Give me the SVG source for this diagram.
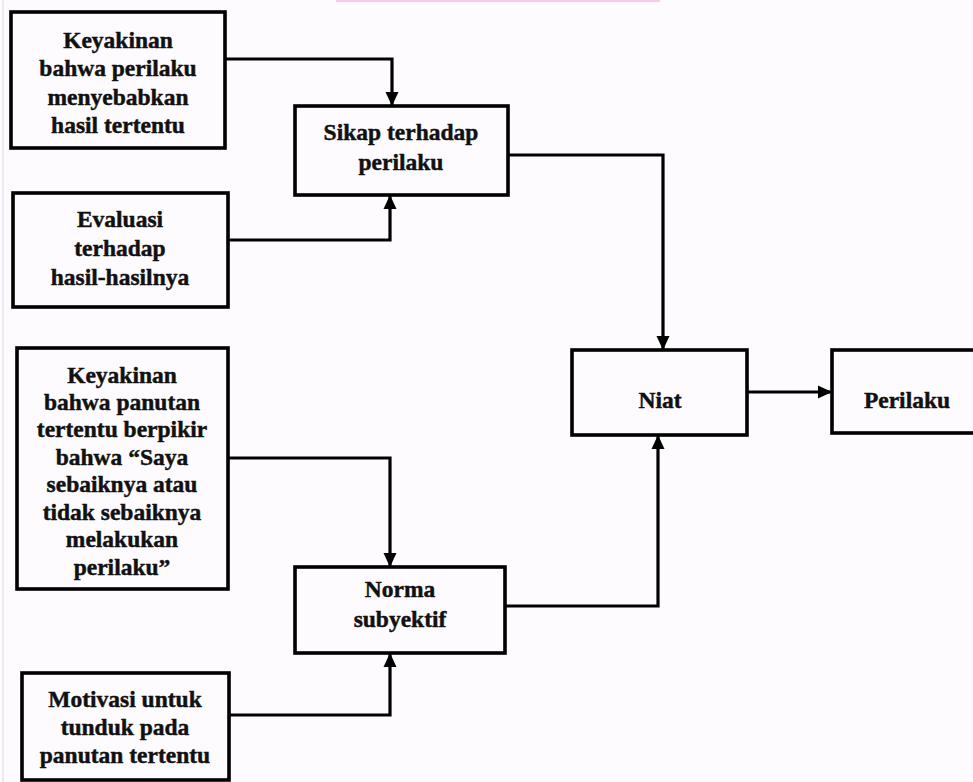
<svg xmlns="http://www.w3.org/2000/svg" width="973" height="782" viewBox="0 0 973 782">
  <defs>
    <marker id="arrow" viewBox="0 0 14 14" refX="13" refY="7" markerWidth="14" markerHeight="14" markerUnits="userSpaceOnUse" orient="auto">
      <path d="M0,0.5 L14,7 L0,13.5 Z" fill="#000"/>
    </marker>
    <style>
      .box { fill: none; stroke: #000; stroke-width: 3.6; }
      .lbl { font-family: "Liberation Serif", "Times New Roman", serif; font-weight: bold; font-size: 23.5px; fill: #111; stroke: #111; stroke-width: 0.45; text-anchor: middle; }
      .wire { fill: none; stroke: #000; stroke-width: 3.2; marker-end: url(#arrow); }
    </style>
  </defs>

  <!-- page -->
  <rect x="0" y="0" width="973" height="782" fill="#fdfbfe"/>
  <rect x="336" y="0" width="324" height="2" fill="#f6cbee"/>
  <line x1="3" y1="0" x2="3" y2="782" stroke="#e6e4ec" stroke-width="1.5"/>

  <!-- connectors -->
  <g id="connectors">
    <path class="wire" d="M225,59 H392 V105"/>
    <path class="wire" d="M228,240 H390 V196"/>
    <path class="wire" d="M508,155 H663 V349"/>
    <path class="wire" d="M747,392 H831"/>
    <path class="wire" d="M228,458 H390 V566"/>
    <path class="wire" d="M229,715 H390 V654"/>
    <path class="wire" d="M505,606 H658 V436"/>
  </g>

  <g id="keyakinan-perilaku">
    <rect class="box" x="11" y="12" width="214" height="136"/>
    <text class="lbl" x="118" y="48">Keyakinan</text>
    <text class="lbl" x="118" y="76">bahwa perilaku</text>
    <text class="lbl" x="118" y="105">menyebabkan</text>
    <text class="lbl" x="118" y="133">hasil tertentu</text>
  </g>

  <g id="evaluasi">
    <rect class="box" x="13" y="193" width="215" height="114"/>
    <text class="lbl" x="120" y="227">Evaluasi</text>
    <text class="lbl" x="120" y="256">terhadap</text>
    <text class="lbl" x="120" y="285">hasil-hasilnya</text>
  </g>

  <g id="sikap">
    <rect class="box" x="295" y="106" width="213" height="89"/>
    <text class="lbl" x="401" y="140">Sikap terhadap</text>
    <text class="lbl" x="401" y="170">perilaku</text>
  </g>

  <g id="keyakinan-panutan">
    <rect class="box" x="17" y="348" width="211" height="241"/>
    <text class="lbl" x="122" y="383">Keyakinan</text>
    <text class="lbl" x="122" y="410">bahwa panutan</text>
    <text class="lbl" x="122" y="437">tertentu berpikir</text>
    <text class="lbl" x="122" y="465">bahwa “Saya</text>
    <text class="lbl" x="122" y="492">sebaiknya atau</text>
    <text class="lbl" x="122" y="520">tidak sebaiknya</text>
    <text class="lbl" x="122" y="547">melakukan</text>
    <text class="lbl" x="122" y="575">perilaku”</text>
  </g>

  <g id="norma">
    <rect class="box" x="295" y="567" width="210" height="86"/>
    <text class="lbl" x="400" y="597">Norma</text>
    <text class="lbl" x="400" y="627">subyektif</text>
  </g>

  <g id="motivasi">
    <rect class="box" x="22" y="673" width="207" height="107"/>
    <text class="lbl" x="125" y="707">Motivasi untuk</text>
    <text class="lbl" x="125" y="735">tunduk pada</text>
    <text class="lbl" x="125" y="763">panutan tertentu</text>
  </g>

  <g id="niat">
    <rect class="box" x="572" y="350" width="175" height="85"/>
    <text class="lbl" x="660" y="408">Niat</text>
  </g>

  <g id="perilaku">
    <rect class="box" x="832" y="350" width="155" height="83"/>
    <text class="lbl" x="907" y="408">Perilaku</text>
  </g>
</svg>
